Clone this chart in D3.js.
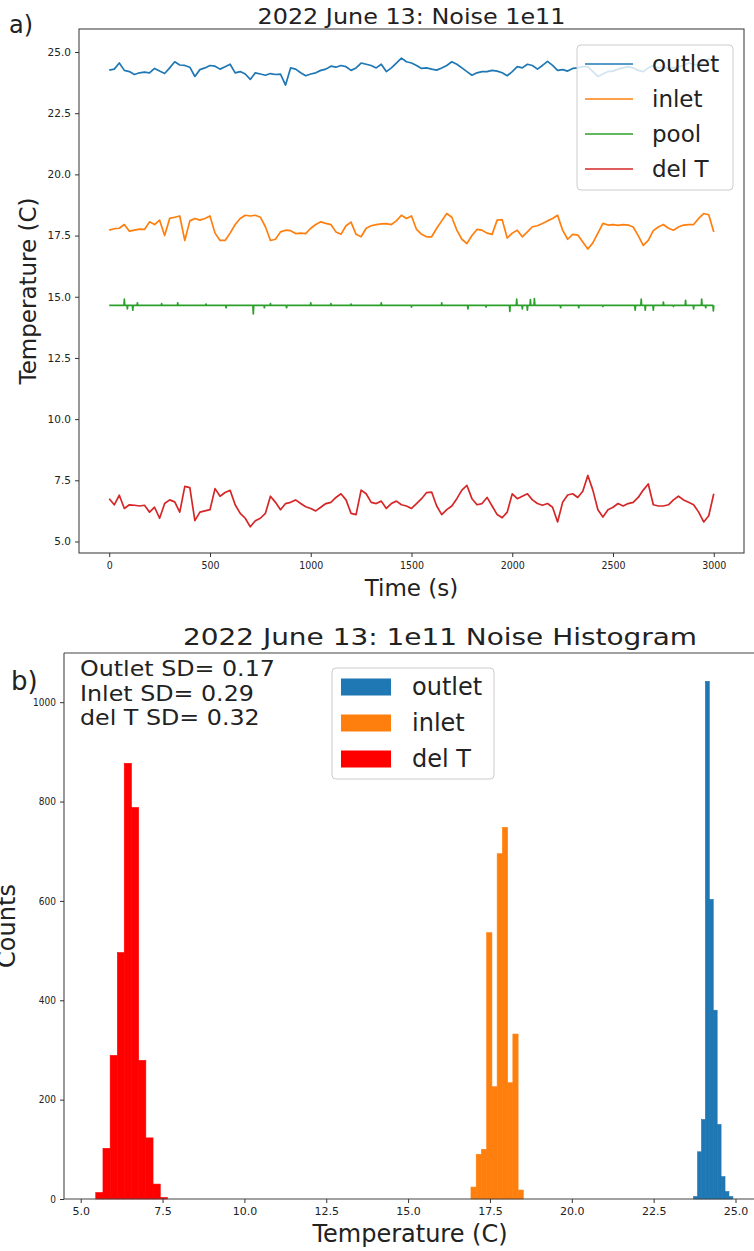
<!DOCTYPE html>
<html>
<head>
<meta charset="utf-8">
<script src="https://cdn.jsdelivr.net/npm/d3@7"></script>
<style>
  body { margin: 0; background: #fff; }
  text { font-family: "DejaVu Sans", sans-serif; fill: #222; }
</style>
</head>
<body>
<div id="chart"></div>
<script>
// ---- panel a) time series, sampled every 25 s
const timeSec = d3.range(0, 3001, 25);
const outletTemp = [24.26,24.3,24.55,24.25,24.2,24.08,24.15,24.18,24.15,24.33,24.22,24.12,24.35,24.6,24.47,24.45,24.38,24.0,24.28,24.35,
  24.45,24.42,24.3,24.4,24.5,24.15,24.2,24.1,23.88,24.15,24.1,24.05,24.12,24.08,24.1,23.65,24.35,24.3,24.15,24.03,
  24.1,24.15,24.25,24.3,24.42,24.38,24.45,24.4,24.25,24.35,24.55,24.5,24.45,24.35,24.5,24.2,24.35,24.55,24.75,24.6,
  24.55,24.45,24.33,24.35,24.3,24.26,24.35,24.45,24.6,24.5,24.35,24.2,24.05,24.15,24.2,24.2,24.25,24.22,24.15,24.03,
  24.2,24.4,24.35,24.5,24.45,24.3,24.45,24.62,24.45,24.25,24.28,24.22,24.33,24.35,24.4,24.4,24.2,24.0,24.1,24.2,
  24.22,24.3,24.35,24.4,24.35,24.25,24.2,24.35,24.45,24.35,24.4,24.3,24.35,24.4,24.45,24.55,24.5,24.45,24.65,24.7,24.6];
const inletTemp = [17.72,17.78,17.8,17.95,17.68,17.72,17.76,17.75,18.06,17.95,18.13,17.5,18.2,18.25,18.3,17.3,18.1,18.2,18.13,18.2,
  18.3,17.6,17.3,17.3,17.6,17.95,18.2,18.33,18.3,18.33,18.25,17.86,17.3,17.35,17.65,17.72,17.7,17.58,17.6,17.58,
  17.8,17.95,18.06,18.0,17.95,17.65,17.55,17.9,18.05,17.55,17.45,17.8,17.9,17.95,17.98,17.99,17.95,18.1,18.33,18.2,
  18.3,17.75,17.55,17.45,17.45,17.8,18.1,18.4,18.25,17.72,17.35,17.17,17.5,17.75,17.72,17.6,17.55,18.13,18.15,17.4,
  17.6,17.72,17.45,17.65,17.86,17.9,17.99,18.1,18.2,18.33,17.72,17.35,17.55,17.52,17.24,16.95,17.2,17.6,18.0,17.93,
  17.95,17.92,17.95,17.93,17.85,17.5,17.1,17.3,17.7,17.85,17.95,17.8,17.72,17.85,17.93,17.95,17.95,18.2,18.4,18.35,17.65];
const delTTemp = [6.75,6.5,6.89,6.35,6.5,6.48,6.45,6.48,6.2,6.4,5.95,6.55,6.7,6.62,6.2,7.25,7.2,5.85,6.2,6.25,
  6.3,7.16,6.85,7.0,7.09,6.5,6.15,5.95,5.6,5.85,5.95,6.15,6.85,6.6,6.3,6.55,6.6,6.7,6.55,6.42,
  6.35,6.25,6.4,6.55,6.6,6.8,6.95,6.7,6.15,6.1,7.1,6.95,6.6,6.55,6.65,6.35,6.55,6.65,6.5,6.45,
  6.35,6.55,6.75,7.0,7.02,6.45,6.1,6.3,6.45,6.75,7.1,7.29,6.75,6.5,6.55,6.8,6.45,6.1,5.97,6.2,
  6.95,6.75,6.85,6.95,6.7,6.55,6.48,6.55,6.4,5.8,6.6,6.9,6.95,6.8,7.05,7.7,7.1,6.3,6.0,6.3,
  6.4,6.55,6.45,6.55,6.6,6.8,7.1,7.35,6.5,6.45,6.45,6.5,6.7,6.85,6.7,6.6,6.5,6.2,5.8,6.05,6.95];
// pool is flat with short single-sample spikes
const poolLevel = 14.65;
const poolSpikeTime = [75,90,117,140,260,340,480,580,715,770,800,880,1000,1100,1200,1350,1500,1650,1780,1870,
  1988,2022,2050,2075,2090,2110,2240,2330,2450,2610,2640,2660,2700,2750,2800,2860,2900,2940,2960,2998];
const poolSpikeTemp = [14.9,14.5,14.45,14.75,14.72,14.75,14.7,14.55,14.3,14.55,14.72,14.55,14.75,14.72,14.7,14.75,14.58,14.75,14.5,14.58,
  14.4,14.9,14.5,14.45,14.88,14.92,14.55,14.55,14.6,14.45,14.9,14.45,14.45,14.78,14.6,14.85,14.5,14.9,14.55,14.42];

const seriesNames = ["outlet", "inlet", "pool", "del T"];
const seriesColors = ["#1f77b4", "#ff7f0e", "#2ca02c", "#d62728"];
const timeTicks = [0, 500, 1000, 1500, 2000, 2500, 3000];
const tempTicks = [5, 7.5, 10, 12.5, 15, 17.5, 20, 22.5, 25];

// ---- panel b) histograms (bin edges + counts)
const outletEdges = [23.72,23.84,23.96,24.08,24.20,24.32,24.44,24.56,24.68,24.80,24.92];
const outletCounts = [5,95,160,1042,603,380,150,45,15,5];
const inletEdges = [16.92,17.08,17.24,17.40,17.56,17.72,17.88,18.04,18.20,18.36,18.52];
const inletCounts = [24,90,100,536,226,695,748,234,332,18];
const delTEdges = [5.46,5.68,5.90,6.12,6.33,6.55,6.77,6.99,7.21,7.43,7.65];
const delTCounts = [13,102,289,496,877,788,279,123,30,3];
const histNames = ["outlet", "inlet", "del T"];
const histColors = ["#1f77b4", "#ff7f0e", "#ff0000"];
const histXTicks = [5, 7.5, 10, 12.5, 15, 17.5, 20, 22.5, 25];
const countTicks = [0, 200, 400, 600, 800, 1000];
const sdLines = ["Outlet SD= 0.17", "Inlet SD= 0.29", "del T SD= 0.32"];

const W = 754, H = 1251;
const svg = d3.select("#chart").append("svg").attr("width", W).attr("height", H);

function styleAxis(g, fs) {
  g.selectAll(".domain").remove();
  g.selectAll(".tick line").attr("stroke", "#333");
  g.selectAll(".tick text").attr("fill", "#333").style("font-size", fs + "px")
    .style("font-family", "'DejaVu Sans Condensed','DejaVu Sans',sans-serif");
}

// ================= panel a =================
const a = { left: 79, right: 744, top: 29, bottom: 553 };
const xA = d3.scaleLinear().domain([-150, 3150]).range([a.left, a.right]);
const yA = d3.scaleLinear().domain([4.53, 25.94]).range([a.bottom, a.top]);

const gA = svg.append("g");
const lineA = d3.line().x(d => xA(d[0])).y(d => yA(d[1]));

const poolPts = [[0, poolLevel]];
poolSpikeTime.forEach((t, i) => {
  poolPts.push([t - 2, poolLevel], [t, poolSpikeTemp[i]], [t + 2, poolLevel]);
});
poolPts.push([3000, poolLevel]);

const seriesA = [
  timeSec.map((t, i) => [t, outletTemp[i]]),
  timeSec.map((t, i) => [t, inletTemp[i]]),
  poolPts,
  timeSec.map((t, i) => [t, delTTemp[i]])
];
gA.selectAll(".ts").data(seriesA).enter().append("path")
  .attr("class", "ts")
  .attr("fill", "none")
  .attr("stroke", (d, i) => seriesColors[i])
  .attr("stroke-width", 1.7)
  .attr("stroke-linejoin", "round")
  .attr("d", lineA);

gA.append("rect").attr("x", a.left).attr("y", a.top)
  .attr("width", a.right - a.left).attr("height", a.bottom - a.top)
  .attr("fill", "none").attr("stroke", "#444").attr("stroke-width", 1.1);

const axA = gA.append("g").attr("transform", `translate(0,${a.bottom})`)
  .call(d3.axisBottom(xA).tickValues(timeTicks).tickSize(4).tickPadding(5).tickFormat(d3.format("d")));
styleAxis(axA, 10.5);
const ayA = gA.append("g").attr("transform", `translate(${a.left},0)`)
  .call(d3.axisLeft(yA).tickValues(tempTicks).tickSize(4).tickPadding(4).tickFormat(d3.format(".1f")));
styleAxis(ayA, 10.5);
ayA.selectAll(".tick text").style("font-family", "'DejaVu Sans',sans-serif");

svg.append("text").attr("x", (a.left + a.right) / 2).attr("y", 24)
  .attr("text-anchor", "middle").style("font-size", "22px")
  .attr("textLength", 308).attr("lengthAdjust", "spacingAndGlyphs")
  .text("2022 June 13: Noise 1e11");
svg.append("text").attr("x", 9).attr("y", 33).style("font-size", "24px").text("a)");
svg.append("text").attr("x", (a.left + a.right) / 2).attr("y", 596)
  .attr("text-anchor", "middle").style("font-size", "23px").text("Time (s)");
svg.append("text").attr("transform", `translate(36,${(a.top + a.bottom) / 2}) rotate(-90)`)
  .attr("text-anchor", "middle").style("font-size", "23px").text("Temperature (C)");

// legend a
const legA = svg.append("g").attr("transform", "translate(577,45)");
legA.append("rect").attr("width", 156).attr("height", 145).attr("rx", 4)
  .attr("fill", "#fff").attr("fill-opacity", 0.8).attr("stroke", "#ccc");
seriesNames.forEach((n, i) => {
  const cy = 19 + i * 35;
  legA.append("line").attr("x1", 8).attr("x2", 56).attr("y1", cy).attr("y2", cy)
    .attr("stroke", seriesColors[i]).attr("stroke-width", 1.7);
  legA.append("text").attr("x", 75).attr("y", cy + 8).style("font-size", "23px").text(n);
});

// ================= panel b =================
const b = { left: 64, right: 816, top: 653, bottom: 1199 };
const xB = d3.scaleLinear().domain([4.49, 4.49 + (b.right - b.left) / 32.74]).range([b.left, b.right]);
const yB = d3.scaleLinear().domain([0, 1099]).range([b.bottom, b.top]);
const gB = svg.append("g");

const hists = [[outletEdges, outletCounts], [inletEdges, inletCounts], [delTEdges, delTCounts]];
hists.forEach(([edges, counts], k) => {
  gB.selectAll(".bar" + k).data(counts).enter().append("rect")
    .attr("class", "bar" + k)
    .attr("x", (d, i) => xB(edges[i]))
    .attr("width", (d, i) => xB(edges[i + 1]) - xB(edges[i]))
    .attr("y", d => yB(d))
    .attr("height", d => yB(0) - yB(d))
    .attr("fill", histColors[k])
    .attr("stroke", histColors[k])
    .attr("stroke-width", 0.6);
});

gB.append("line").attr("x1", b.left).attr("x2", W).attr("y1", b.top).attr("y2", b.top).attr("stroke", "#444").attr("stroke-width", 1.1);
gB.append("line").attr("x1", b.left).attr("x2", W).attr("y1", b.bottom).attr("y2", b.bottom).attr("stroke", "#444").attr("stroke-width", 1.1);
gB.append("line").attr("x1", b.left).attr("x2", b.left).attr("y1", b.top).attr("y2", b.bottom).attr("stroke", "#444").attr("stroke-width", 1.1);

const axB = gB.append("g").attr("transform", `translate(0,${b.bottom})`)
  .call(d3.axisBottom(xB).tickValues(histXTicks).tickSize(4).tickPadding(4).tickFormat(d3.format(".1f")));
styleAxis(axB, 11);
axB.selectAll(".tick text").style("font-family", "'DejaVu Sans',sans-serif");
const ayB = gB.append("g").attr("transform", `translate(${b.left},0)`)
  .call(d3.axisLeft(yB).tickValues(countTicks).tickSize(4).tickPadding(4).tickFormat(d3.format("d")));
styleAxis(ayB, 10);

svg.append("text").attr("x", 440).attr("y", 645)
  .attr("text-anchor", "middle").style("font-size", "23px")
  .attr("textLength", 514).attr("lengthAdjust", "spacingAndGlyphs")
  .text("2022 June 13: 1e11 Noise Histogram");
svg.append("text").attr("x", 11).attr("y", 690).style("font-size", "26px").text("b)");
svg.append("text").attr("x", 410).attr("y", 1242)
  .attr("text-anchor", "middle").style("font-size", "24px").text("Temperature (C)");
svg.append("text").attr("transform", `translate(15,${(b.top + b.bottom) / 2}) rotate(-90)`)
  .attr("text-anchor", "middle").style("font-size", "24px").text("Counts");

// SD notes: slightly wide glyphs in the reference, keep line gap tight
sdLines.forEach((s, i) => {
  const t = svg.append("text").attr("x", 80).attr("y", 676 + i * 24.5).style("font-size", "22px").text(s);
  const w = t.node().getComputedTextLength();
  t.attr("textLength", w * 1.08).attr("lengthAdjust", "spacingAndGlyphs");
});

// legend b
const legB = svg.append("g").attr("transform", "translate(332,668)");
legB.append("rect").attr("width", 162).attr("height", 111).attr("rx", 4)
  .attr("fill", "#fff").attr("fill-opacity", 0.8).attr("stroke", "#ccc");
histNames.forEach((n, i) => {
  const cy = 19 + i * 36;
  legB.append("rect").attr("x", 9).attr("y", cy - 8.5).attr("width", 50).attr("height", 17)
    .attr("fill", histColors[i]);
  legB.append("text").attr("x", 80).attr("y", cy + 8).style("font-size", "24px").text(n);
});
</script>
</body>
</html>
